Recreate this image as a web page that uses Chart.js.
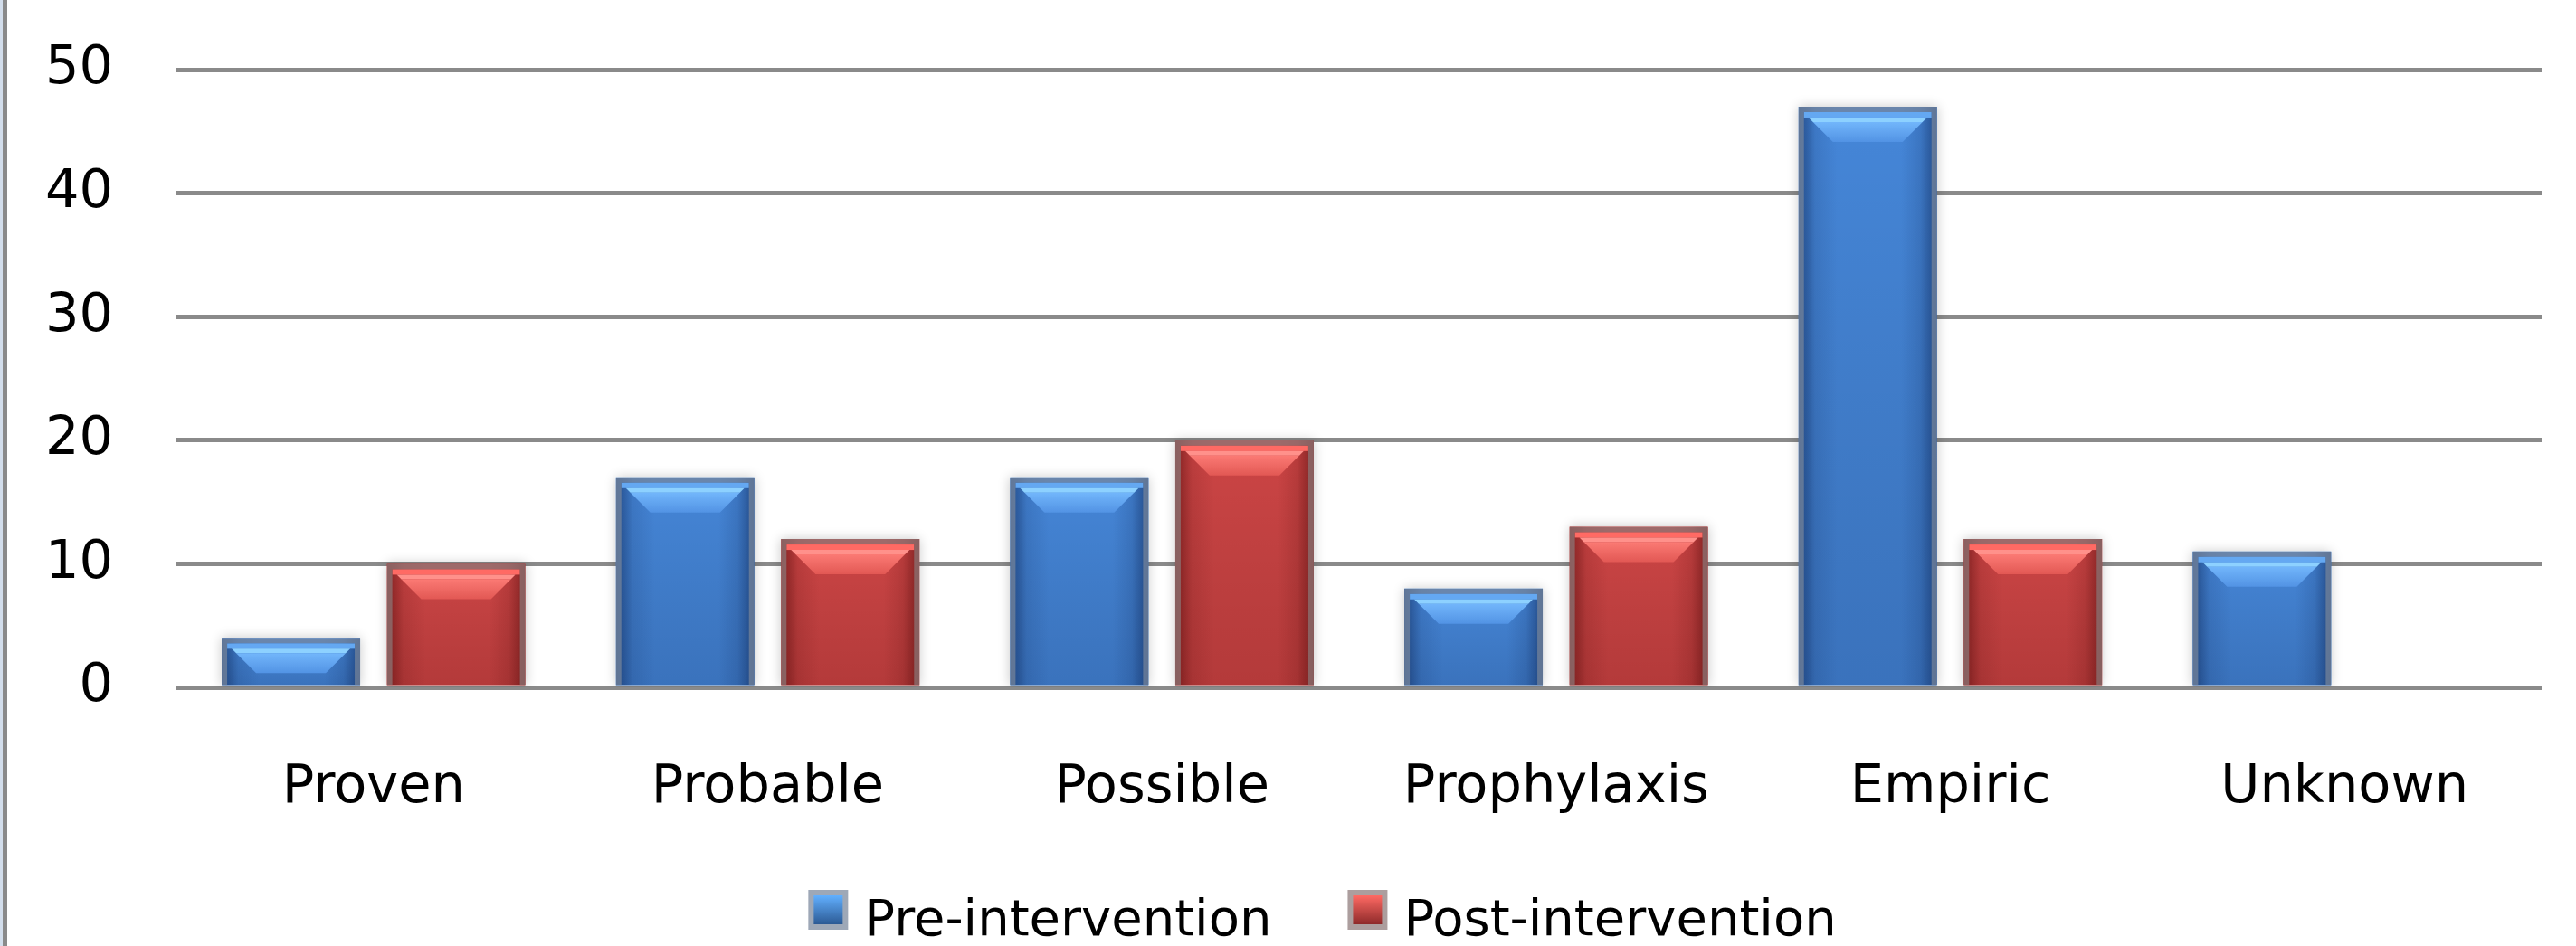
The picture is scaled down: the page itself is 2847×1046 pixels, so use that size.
<!DOCTYPE html>
<html>
<head>
<meta charset="utf-8">
<title>Antifungal indication, pre- vs post-intervention</title>
<script src="https://cdn.jsdelivr.net/npm/chart.js@4/dist/chart.umd.min.js"></script>
<style>
  html, body { margin: 0; padding: 0; background: #ffffff; }
  #wrap { width: 2847px; height: 1046px; position: relative; background: #ffffff; }
</style>
</head>
<body>
<div id="wrap"><canvas id="chart" width="2847" height="1046"></canvas></div>
<script>
// ---- data ----
const categories = ['Proven', 'Probable', 'Possible', 'Prophylaxis', 'Empiric', 'Unknown'];
const seriesNames = ['Pre-intervention', 'Post-intervention'];
const preIntervention = [4, 17, 17, 8, 47, 11];
const postIntervention = [10, 12, 20, 13, 12, 0];
const yTickValues = [0, 10, 20, 30, 40, 50];

// ---- look ----
const FONT = '"DejaVu Sans", "Liberation Sans", sans-serif';
const TONES = [
  { // blue
    base: '#4586d8',
    edge: 'rgba(12, 36, 84, ',
    bottom: 'rgba(0, 12, 45, 0.16)',
    band1: '#64a8f2', band2: '#8dd1ff', bevTop: '#72b6fb', bevBot: '#5293e4',
    border: 'rgba(120, 135, 155, 0.72)',
    boxTop: '#62b0ff', boxBot: '#2c5a94'
  },
  { // red
    base: '#cd4545',
    edge: 'rgba(80, 10, 10, ',
    bottom: 'rgba(50, 0, 0, 0.16)',
    band1: '#ff6a64', band2: '#ff918b', bevTop: '#fb7a74', bevBot: '#e25854',
    border: 'rgba(140, 120, 120, 0.72)',
    boxTop: '#ff6a64', boxBot: '#8e2a2a'
  }
];
const PAD_LEFT = 10;
const PLOT_LEFT = 195;
const PLOT_TOP = 77;
const LEGEND_LEFT = 114;
const LEGEND_FONT = 56;
const LEGEND_BOX = 44;

// thin frame line on the left edge of the chart
const frameLine = {
  id: 'frameLine',
  beforeDraw(chart) {
    const ctx = chart.ctx;
    ctx.save();
    ctx.fillStyle = '#ffffff';
    ctx.fillRect(0, 0, chart.width, chart.height);
    ctx.fillStyle = '#d3deec';
    ctx.fillRect(0, 0, 3, chart.height);
    ctx.fillStyle = '#8a8a8a';
    ctx.fillRect(3, 0, 5, chart.height);
    ctx.restore();
  }
};

// soft shadow under the bars plus a glassy bevel drawn on each bar element
const bevelBars = {
  id: 'bevelBars',
  beforeDatasetDraw(chart) {
    const ctx = chart.ctx;
    ctx.save();
    ctx.shadowColor = 'rgba(0, 0, 0, 0.22)';
    ctx.shadowBlur = 12;
  },
  afterDatasetDraw(chart, args) {
    const ctx = chart.ctx;
    ctx.restore();
    const tone = TONES[args.index];
    args.meta.data.forEach(bar => {
      const p = bar.getProps(['x', 'y', 'base', 'width'], true);
      const L = p.x - p.width / 2, R = p.x + p.width / 2;
      const T = Math.min(p.y, p.base), B = Math.max(p.y, p.base);
      const w = R - L, h = B - T;
      if (h < 1) return;
      const bw = 6;
      ctx.save();
      ctx.beginPath();
      ctx.rect(L, T, w, h);
      ctx.clip();

      // darker towards the foot
      let g = ctx.createLinearGradient(0, T, 0, B);
      g.addColorStop(0, 'rgba(0,0,0,0)');
      g.addColorStop(1, tone.bottom);
      ctx.fillStyle = g;
      ctx.fillRect(L, T, w, h);

      // rounded side shading
      g = ctx.createLinearGradient(L, 0, R, 0);
      g.addColorStop(0.00, tone.edge + '0.55)');
      g.addColorStop(0.06, tone.edge + '0.38)');
      g.addColorStop(0.12, tone.edge + '0.14)');
      g.addColorStop(0.28, tone.edge + '0)');
      g.addColorStop(0.74, tone.edge + '0)');
      g.addColorStop(0.88, tone.edge + '0.16)');
      g.addColorStop(0.94, tone.edge + '0.38)');
      g.addColorStop(1.00, tone.edge + '0.6)');
      ctx.fillStyle = g;
      ctx.fillRect(L, T, w, h);

      // top highlight bands and bevel
      const bevH = Math.min(22, Math.max(0, h - bw - 14));
      const y0 = T + bw;
      ctx.fillStyle = tone.band1;
      ctx.fillRect(L + bw, y0, w - 2 * bw, Math.min(6, h - bw));
      if (h > bw + 11) {
        ctx.fillStyle = tone.band2;
        ctx.beginPath();
        ctx.moveTo(L + bw + 5, y0 + 6);
        ctx.lineTo(R - bw - 5, y0 + 6);
        ctx.lineTo(R - bw - 10, y0 + 11);
        ctx.lineTo(L + bw + 10, y0 + 11);
        ctx.closePath();
        ctx.fill();
      }
      if (bevH > 2) {
        const y1 = y0 + 11;
        g = ctx.createLinearGradient(0, y1, 0, y1 + bevH);
        g.addColorStop(0, tone.bevTop);
        g.addColorStop(1, tone.bevBot);
        ctx.fillStyle = g;
        ctx.beginPath();
        ctx.moveTo(L + bw + 10, y1);
        ctx.lineTo(R - bw - 10, y1);
        ctx.lineTo(R - bw - 10 - bevH, y1 + bevH);
        ctx.lineTo(L + bw + 10 + bevH, y1 + bevH);
        ctx.closePath();
        ctx.fill();
      }

      // outline
      ctx.lineWidth = bw;
      ctx.strokeStyle = tone.border;
      ctx.beginPath();
      ctx.moveTo(L + bw / 2, B);
      ctx.lineTo(L + bw / 2, T + bw / 2);
      ctx.lineTo(R - bw / 2, T + bw / 2);
      ctx.lineTo(R - bw / 2, B);
      ctx.stroke();
      ctx.restore();
    });
  }
};

// legend centred under the plot
const bottomLegend = {
  id: 'bottomLegend',
  afterDraw(chart) {
    const ctx = chart.ctx;
    const area = chart.chartArea;
    ctx.save();
    ctx.font = LEGEND_FONT + 'px ' + FONT;
    ctx.textBaseline = 'alphabetic';
    ctx.textAlign = 'left';
    const gapBoxText = 18, gapItems = 84;
    const items = chart.data.datasets.map((ds, i) => ({
      label: ds.label, tone: TONES[i], tw: ctx.measureText(ds.label).width
    }));
    const total = items.reduce((s, it) => s + LEGEND_BOX + gapBoxText + it.tw, 0) + gapItems * (items.length - 1);
    let x = (LEGEND_LEFT + area.right) / 2 - total / 2;
    const boxTop = 984, baseline = 1034;
    items.forEach(it => {
      ctx.fillStyle = it.tone.border;
      ctx.fillRect(x, boxTop, LEGEND_BOX, LEGEND_BOX);
      const g = ctx.createLinearGradient(0, boxTop + 6, 0, boxTop + LEGEND_BOX - 6);
      g.addColorStop(0, it.tone.boxTop);
      g.addColorStop(1, it.tone.boxBot);
      ctx.fillStyle = g;
      ctx.fillRect(x + 6, boxTop + 6, LEGEND_BOX - 12, LEGEND_BOX - 12);
      ctx.fillStyle = '#000000';
      ctx.fillText(it.label, x + LEGEND_BOX + gapBoxText, baseline);
      x += LEGEND_BOX + gapBoxText + it.tw + gapItems;
    });
    ctx.restore();
  }
};

const ctx = document.getElementById('chart').getContext('2d');
new Chart(ctx, {
  type: 'bar',
  data: {
    labels: categories,
    datasets: [
      { label: seriesNames[0], data: preIntervention, backgroundColor: TONES[0].base, borderWidth: 0 },
      { label: seriesNames[1], data: postIntervention, backgroundColor: TONES[1].base, borderWidth: 0 }
    ]
  },
  options: {
    responsive: false,
    devicePixelRatio: 1,
    animation: false,
    categoryPercentage: 0.838,
    barPercentage: 0.838,
    layout: { padding: { left: PAD_LEFT, right: 38, top: PLOT_TOP, bottom: 120 } },
    plugins: {
      legend: { display: false },
      tooltip: { enabled: false }
    },
    scales: {
      x: {
        grid: { display: false, drawTicks: false },
        border: { display: false },
        ticks: { color: '#000000', font: { family: FONT, size: 59 }, padding: 76 },
        afterFit(scale) {
          scale.height = 1046 - 120 - 760;
          scale.paddingLeft = 0;
          scale.paddingRight = 0;
        }
      },
      y: {
        min: 0,
        max: 50,
        afterBuildTicks(scale) { scale.ticks = yTickValues.map(v => ({ value: v })); },
        grid: { color: '#8a8a8a', lineWidth: 5, drawTicks: false },
        border: { display: false },
        ticks: { color: '#000000', font: { family: FONT, size: 59 }, padding: 70 },
        afterFit(scale) {
          scale.width = PLOT_LEFT - PAD_LEFT;
          scale.paddingTop = 0;
          scale.paddingBottom = 0;
        }
      }
    }
  },
  plugins: [frameLine, bevelBars, bottomLegend]
});
</script>
</body>
</html>
